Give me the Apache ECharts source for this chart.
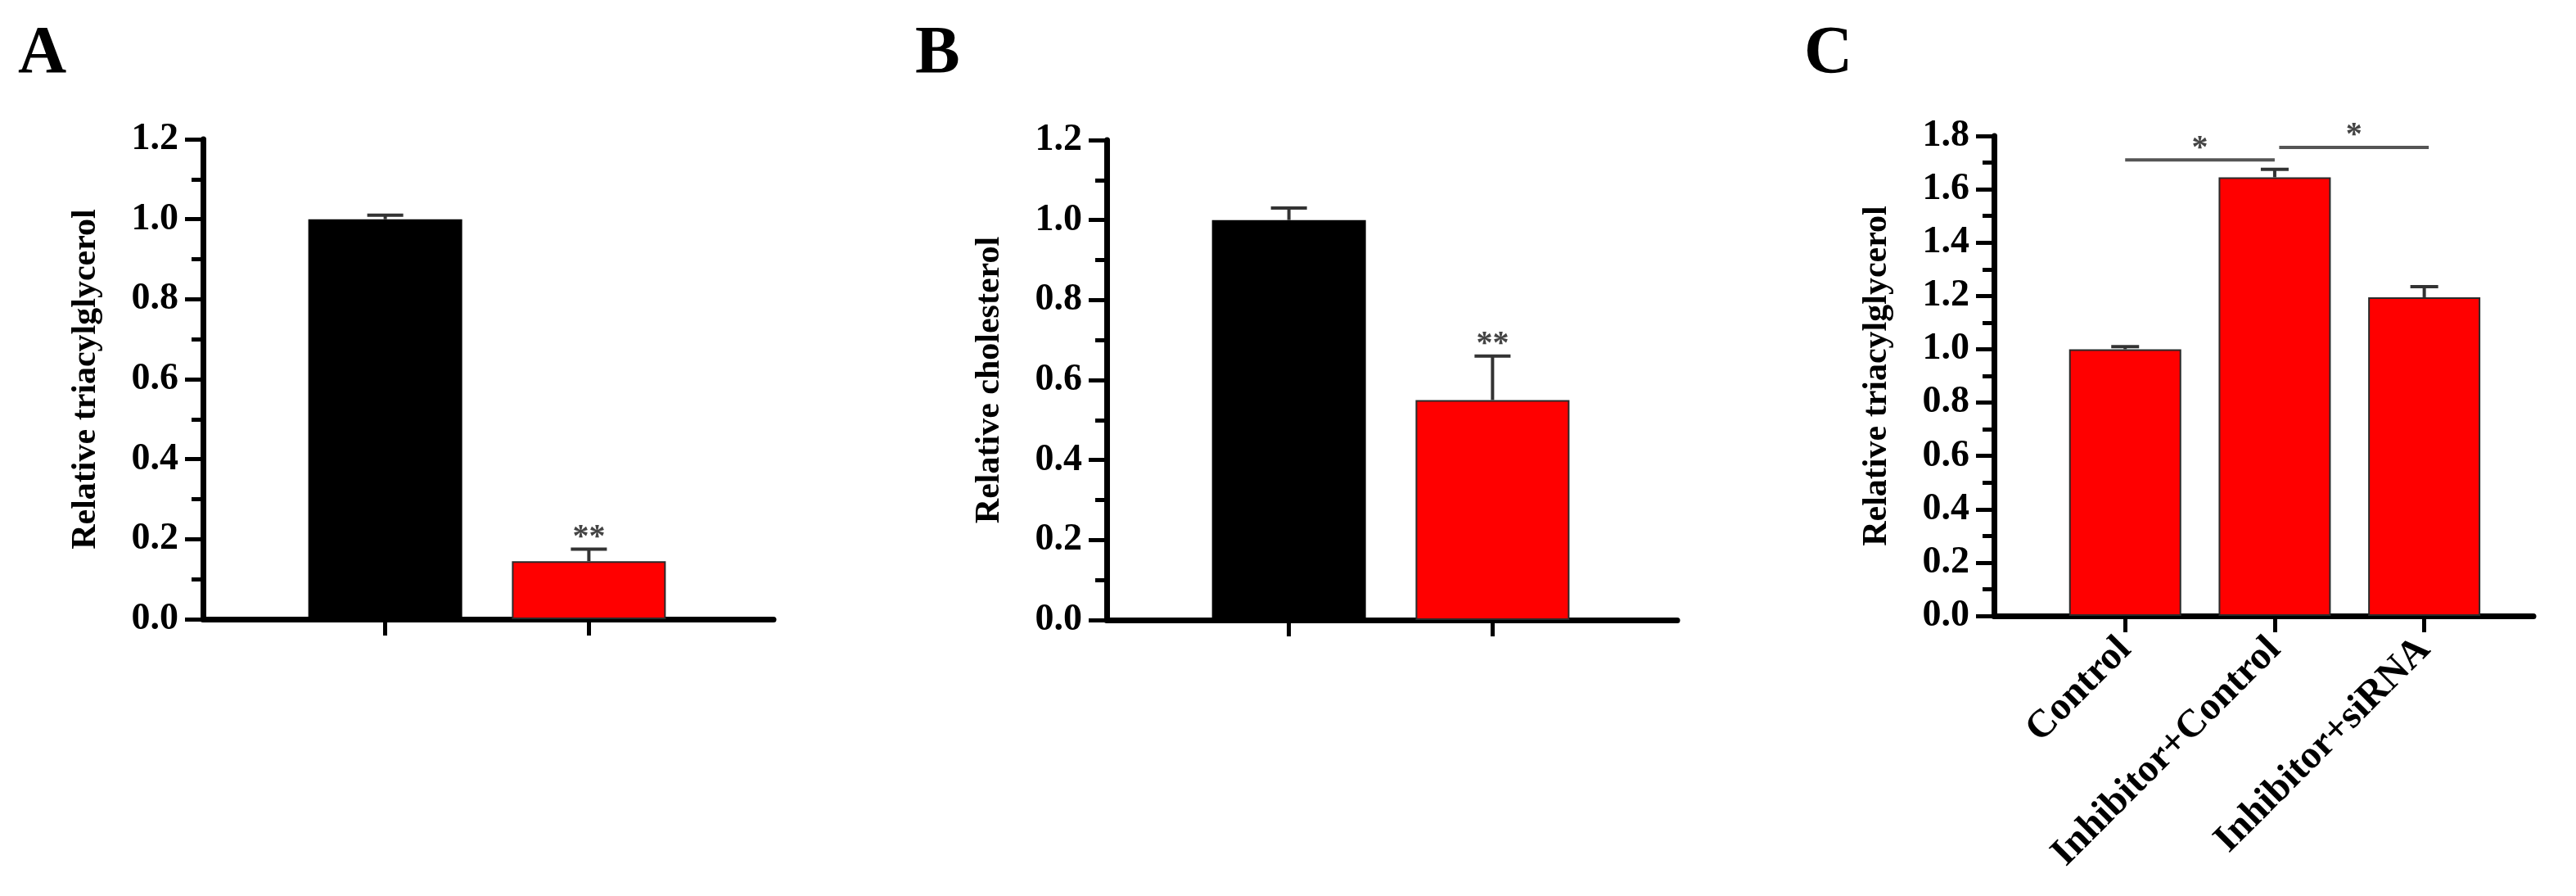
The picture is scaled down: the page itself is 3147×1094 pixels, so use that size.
<!DOCTYPE html>
<html>

<head>
    <meta charset="utf-8">
    <title>Relative lipid levels</title>
    <script src="https://cdn.jsdelivr.net/npm/echarts@6.0.0/dist/echarts.min.js"></script>
    <style>
        body { margin: 0; background: #fff; }
    </style>
</head>

<body>
    <div id="main" style="width: 3147px;height:1094px;"></div>
    <script type="text/javascript">
        // data
        var panelLetters = ["A", "B", "C"]
        var yNames = ["Relative triacylglycerol", "Relative cholesterol", "Relative triacylglycerol"]

        var valsA = [1.0, 0.145]
        var errA = [0.01, 0.03]
        var starsA = ["", "**"]

        var valsB = [1.0, 0.55]
        var errB = [0.03, 0.11]
        var starsB = ["", "**"]

        var catsC = ["Control", "Inhibitor+Control", "Inhibitor+siRNA"]
        var valsC = [1.0, 1.645, 1.195]
        var errC = [0.01, 0.03, 0.04]
        // comparison brackets: from, to, height, label
        var sigC = [[1, 2, 1.71, "*"], [2.03, 3.03, 1.757, "*"]]

        // styles
        var colorsA = ["#000000", "#ff0000"]
        var colorsB = ["#000000", "#ff0000"]
        var colorsC = ["#ff0000", "#ff0000", "#ff0000"]
        var FONT = "Liberation Serif"

        var myChart = echarts.init(document.getElementById("main"))

        function barData(vals, colors) {
            return vals.map(function (v, i) {
                return {
                    value: [i + 1, v],
                    itemStyle: {
                        color: colors[i],
                        borderColor: colors[i] === "#000000" ? "#000" : "#2a2a2a",
                        borderWidth: 2
                    }
                }
            })
        }

        function errData(vals, errs, stars) {
            return vals.map(function (v, i) {
                return [i + 1, v, errs[i], stars ? stars[i] : ""]
            })
        }

        // error bar (upper half only) plus optional star label
        function errRender(capHalf) {
            return function (params, api) {
                var x = api.value(0), v = api.value(1), e = api.value(2)
                var star = api.value(3)
                var base = api.coord([x, v])
                var top = api.coord([x, v + e])
                var st = { stroke: "#333", lineWidth: 4 }
                var kids = [
                    { type: "line", shape: { x1: base[0], y1: base[1], x2: top[0], y2: top[1] }, style: st },
                    { type: "line", shape: { x1: top[0] - capHalf, y1: top[1], x2: top[0] + capHalf, y2: top[1] }, style: st }
                ]
                if (star && star !== "" && star !== "-") {
                    kids.push({
                        type: "text", x: top[0], y: top[1] - 14,
                        style: { text: star, fill: "#444", font: "bold 40px '" + FONT + "'", align: "center", verticalAlign: "middle" }
                    })
                }
                return { type: "group", children: kids }
            }
        }

        function sigRender(params, api) {
            var a = api.coord([api.value(0), api.value(2)])
            var b = api.coord([api.value(1), api.value(2)])
            return {
                type: "group", children: [
                    { type: "line", shape: { x1: a[0], y1: a[1], x2: b[0], y2: b[1] }, style: { stroke: "#555", lineWidth: 4 } },
                    {
                        type: "text", x: (a[0] + b[0]) / 2, y: a[1] - 14,
                        style: { text: sigC[params.dataIndex][3], fill: "#444", font: "bold 40px '" + FONT + "'", align: "center", verticalAlign: "middle" }
                    }
                ]
            }
        }

        function yAxisOf(idx, max, name) {
            return {
                type: "value", gridIndex: idx, min: 0, max: max, interval: 0.2,
                name: name, nameLocation: "middle", nameGap: 122, nameRotate: 90,
                nameTextStyle: { fontFamily: FONT, fontWeight: "bold", fontSize: 42, color: "#000" },
                axisLine: { show: true, onZero: false, lineStyle: { color: "#000", width: 7 } },
                axisTick: { show: true, length: 22, lineStyle: { color: "#000", width: 5 } },
                minorTick: { show: true, splitNumber: 2, length: 14, lineStyle: { color: "#000", width: 5 } },
                splitLine: { show: false },
                axisLabel: {
                    margin: 30, fontFamily: FONT, fontWeight: "bold", fontSize: 46, color: "#000",
                    formatter: function (v) { return v.toFixed(1) }
                }
            }
        }

        function xAxisOf(idx, min, max, ticks, labels) {
            return {
                type: "value", gridIndex: idx, min: min, max: max,
                axisLine: { show: true, onZero: false, lineStyle: { color: "#000", width: 7 } },
                axisTick: { show: true, customValues: ticks, length: 20, lineStyle: { color: "#000", width: 5 } },
                splitLine: { show: false },
                axisLabel: labels ? {
                    show: true, customValues: ticks, rotate: 45, margin: 34,
                    fontFamily: FONT, fontWeight: "bold", fontSize: 48, color: "#000",
                    formatter: function (v) { return labels[Math.round(v) - 1] }
                } : { show: false }
            }
        }

        var option = {
            backgroundColor: "#fff",
            animation: false,
            title: [
                { text: panelLetters[0], left: 22, top: 26 },
                { text: panelLetters[1], left: 1118, top: 26 },
                { text: panelLetters[2], left: 2204, top: 26 }
            ].map(function (t) {
                t.padding = 0
                t.textStyle = { fontFamily: FONT, fontWeight: "bold", fontSize: 82, color: "#000" }
                return t
            }),
            grid: [
                { left: 248, top: 170, width: 697, height: 586 },
                { left: 1352, top: 171, width: 697, height: 586 },
                { left: 2436, top: 166, width: 659, height: 586 }
            ],
            xAxis: [
                xAxisOf(0, 0.105, 2.907, [1, 2], null),
                xAxisOf(1, 0.105, 2.907, [1, 2], null),
                xAxisOf(2, 0.123, 3.73, [1, 2, 3], catsC)
            ],
            yAxis: [
                yAxisOf(0, 1.2, yNames[0]),
                yAxisOf(1, 1.2, yNames[1]),
                yAxisOf(2, 1.8, yNames[2])
            ],
            series: [
                { type: "bar", xAxisIndex: 0, yAxisIndex: 0, barWidth: 188, data: barData(valsA, colorsA) },
                { type: "bar", xAxisIndex: 1, yAxisIndex: 1, barWidth: 188, data: barData(valsB, colorsB) },
                { type: "bar", xAxisIndex: 2, yAxisIndex: 2, barWidth: 137, data: barData(valsC, colorsC) },
                { type: "custom", xAxisIndex: 0, yAxisIndex: 0, z: 5, renderItem: errRender(22), data: errData(valsA, errA, starsA) },
                { type: "custom", xAxisIndex: 1, yAxisIndex: 1, z: 5, renderItem: errRender(22), data: errData(valsB, errB, starsB) },
                { type: "custom", xAxisIndex: 2, yAxisIndex: 2, z: 5, renderItem: errRender(17), data: errData(valsC, errC, null) },
                { type: "custom", xAxisIndex: 2, yAxisIndex: 2, z: 5, renderItem: sigRender, data: sigC.map(function (s) { return [s[0], s[1], s[2]] }) }
            ]
        }

        myChart.setOption(option)
    </script>
</body>

</html>
